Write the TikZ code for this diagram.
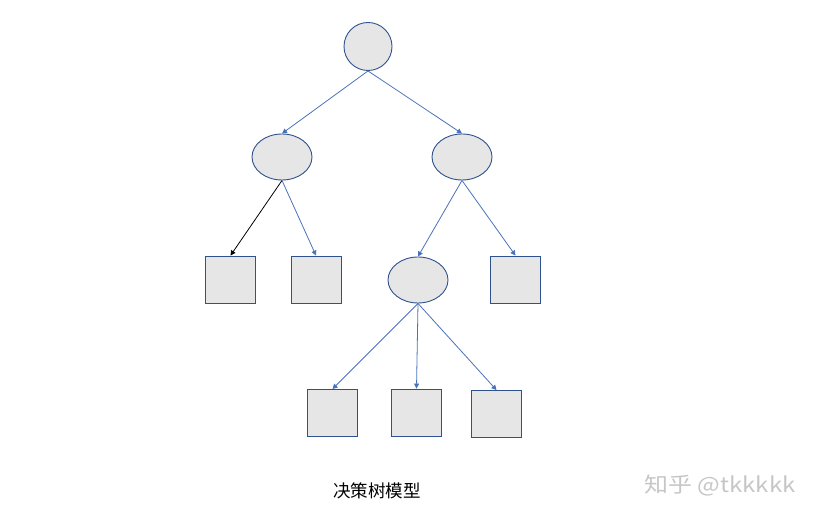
\documentclass[tikz,border=0pt]{standalone}
\usepackage{fontspec}
\newfontfamily\cjk{Noto Sans CJK SC}
\usetikzlibrary{shapes, arrows.meta}

\definecolor{edgeblue}{RGB}{74,114,186}
\definecolor{shapeline}{RGB}{47,82,143}
\definecolor{shapefill}{RGB}{231,230,230}

\begin{document}
\begin{tikzpicture}[
  x=1pt, y=-1pt,
  root/.style={circle, draw=shapeline, fill=shapefill, line width=0.9pt, minimum size=48pt, inner sep=0pt},
  split/.style={ellipse, draw=shapeline, fill=shapefill, line width=0.9pt, minimum width=60pt, minimum height=46pt, inner sep=0pt},
  leaf/.style={rectangle, draw=shapeline, fill=shapefill, line width=0.9pt, minimum width=50pt, minimum height=47pt, inner sep=0pt},
  arrow/.style={-{Triangle[width=5pt,length=5pt]}, draw=edgeblue, line width=0.8pt},
  blackarrow/.style={-{Triangle[width=5pt,length=5pt]}, draw=black, line width=0.8pt},
]
\useasboundingbox (0,0) rectangle (820,518);

% Tree nodes
\node[root] (top) at (368,46.5) {};
\node[split] (left) at (282,157) {};
\node[split] (right) at (462,157) {};
\node[leaf] (leafa) at (230.5,279.5) {};
\node[leaf] (leafb) at (316,279.5) {};
\node[split] (mid) at (418,280) {};
\node[leaf] (leafc) at (515.5,279.5) {};
\node[leaf] (leafd) at (332.5,413) {};
\node[leaf] (leafe) at (416.5,412.5) {};
\node[leaf] (leaff) at (496.5,414) {};

% Texts
\node[font=\cjk\fontsize{17.5}{20}\selectfont] (caption) at (377,491) {决策树模型};
\node[font=\cjk\fontsize{21}{24}\selectfont, text=gray!45, xscale=1.14] (mark) at (720,485) {知乎 @tkkkkk};

% Connections
\draw[arrow] (top.south) -- (left.north);
\draw[arrow] (top.south) -- (right.north);
\draw[blackarrow] (left.south) -- (leafa.north);
\draw[arrow] (left.south) -- (leafb.north);
\draw[arrow] (right.south) -- (mid.north);
\draw[arrow] (right.south) -- (leafc.north);
\draw[arrow] (mid.south) -- (leafd.north);
\draw[arrow] (mid.south) -- (leafe.north);
\draw[arrow] (mid.south) -- (leaff.north);

\end{tikzpicture}
\end{document}
